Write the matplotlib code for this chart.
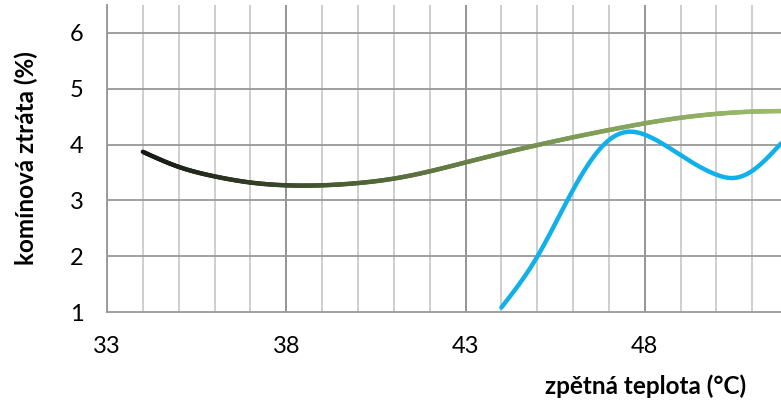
import numpy as np
import matplotlib
matplotlib.use("Agg")
import matplotlib.pyplot as plt
from matplotlib.collections import LineCollection
from matplotlib.colors import LinearSegmentedColormap

# Data
green_x = [34, 35, 36, 37, 38, 39, 40, 41, 42, 43, 44, 45, 46, 47, 48, 49, 50, 51, 51.8]
green_y = [3.87, 3.60, 3.43, 3.32, 3.27, 3.27, 3.31, 3.39, 3.52, 3.68, 3.84, 3.99, 4.13, 4.26, 4.38, 4.48, 4.55, 4.59, 4.60]
blue_x = [44, 45, 46, 47, 47.65, 48.1, 49, 50, 50.45, 51, 51.8]
blue_y = [1.08, 1.99, 3.19, 4.08, 4.23, 4.15, 3.81, 3.46, 3.40, 3.53, 4.02]
xticks = [33, 38, 43, 48]
yticks = [1, 2, 3, 4, 5, 6]
xlabel = "zpětná teplota (°C)"
ylabel = "komínová ztráta (%)"


def spline(x, y, n=400):
    x = np.asarray(x, float); y = np.asarray(y, float)
    m = len(x); h = np.diff(x)
    A = np.zeros((m, m)); r = np.zeros(m)
    A[0, 0] = A[-1, -1] = 1
    for i in range(1, m - 1):
        A[i, i - 1] = h[i - 1]; A[i, i] = 2 * (h[i - 1] + h[i]); A[i, i + 1] = h[i]
        r[i] = 6 * ((y[i + 1] - y[i]) / h[i] - (y[i] - y[i - 1]) / h[i - 1])
    M = np.linalg.solve(A, r)
    xs = np.linspace(x[0], x[-1], n)
    k = np.clip(np.searchsorted(x, xs) - 1, 0, m - 2)
    t0 = x[k + 1] - xs; t1 = xs - x[k]; hk = h[k]
    ys = (M[k] * t0 ** 3 + M[k + 1] * t1 ** 3) / (6 * hk) + (y[k] / hk - M[k] * hk / 6) * t0 \
        + (y[k + 1] / hk - M[k + 1] * hk / 6) * t1
    return xs, ys


plt.rcParams['font.family'] = ['Lato', 'DejaVu Sans']
fig = plt.figure(figsize=(7.81, 4.07), dpi=100)
ax = fig.add_axes([0.137, 0.2334, 0.863, 0.7543])
ax.set_xlim(33, 51.8)
ax.set_ylim(1, 6.5)

for v in np.arange(34, 52):
    if v not in xticks:
        ax.axvline(v, color='#c6c6c6', lw=1.2, zorder=1)
for v in xticks:
    ax.axvline(v, color='#8c8c8c', lw=1.3, zorder=1)
for v in yticks[1:]:
    ax.axhline(v, color='#979797', lw=1.3, zorder=1)

for s in ['top', 'right']:
    ax.spines[s].set_visible(False)
for s in ['left', 'bottom']:
    ax.spines[s].set_color('#979797')
    ax.spines[s].set_linewidth(1.3)

gx, gy = spline(green_x, green_y)
pts = np.column_stack([gx, gy]).reshape(-1, 1, 2)
segs = np.concatenate([pts[:-1], pts[1:]], axis=1)
cmap = LinearSegmentedColormap.from_list('g', ['#141812', '#4f6236', '#7d9a55', '#9cbc6c'])
lc = LineCollection(segs, cmap=cmap, linewidths=3.2, capstyle='round', joinstyle='round', zorder=3)
lc.set_array(np.linspace(0, 1, len(segs)))
ax.add_collection(lc)

bx, by = spline(blue_x, blue_y)
ax.plot(bx, by, color='#12b0ea', lw=3.2, solid_capstyle='round', zorder=4)

ax.set_xticks(xticks)
ax.set_yticks(yticks)
ax.tick_params(length=0, labelsize=17, colors='#000000')
ax.tick_params(axis='y', pad=17)
ax.tick_params(axis='x', pad=17)

fig.text(0.034, 0.612, ylabel, rotation=90, ha='center', va='center', fontsize=17.5, fontweight='bold')
fig.text(0.827, 0.052, xlabel, ha='center', va='center', fontsize=17.5, fontweight='bold')

fig.savefig('out.png', dpi=100)
